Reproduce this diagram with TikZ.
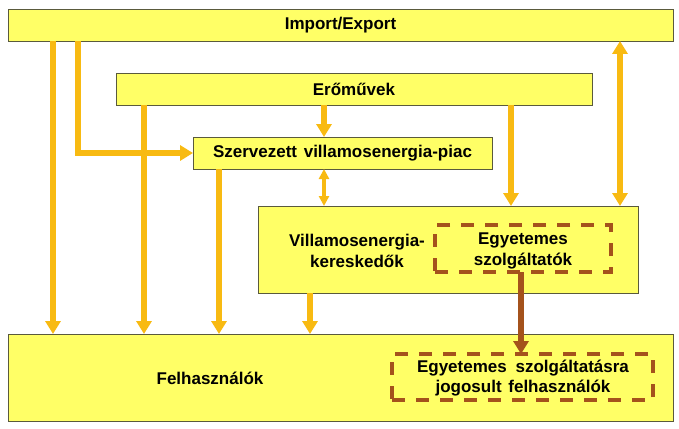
\documentclass[tikz,border=0pt]{standalone}
\usepackage{fontspec}
\setmainfont{Liberation Sans}
\usetikzlibrary{arrows.meta}
\definecolor{boxfill}{HTML}{FFFF66}
\definecolor{boxline}{HTML}{5A5A3C}
\definecolor{arrcol}{HTML}{F8BA12}
\definecolor{browncol}{HTML}{A4521C}
\tikzset{
  box/.style={draw=boxline, line width=0.9pt, fill=boxfill, inner sep=0pt, outer sep=0pt, anchor=center},
  dbox/.style={draw=browncol, line width=3.2pt, dash pattern=on 13pt off 11pt, inner sep=0pt, outer sep=0pt},
  txt/.style={font=\bfseries\fontsize{17}{20.5}\selectfont, align=center, inner sep=0pt},
  arr/.style={draw=arrcol, line width=5.5pt, -{Triangle[width=15pt,length=13pt]}},
  darr/.style={draw=arrcol, line width=5.5pt, {Triangle[width=15pt,length=13pt]}-{Triangle[width=15pt,length=13pt]}},
  sdarr/.style={draw=arrcol, line width=4pt, {Triangle[width=10pt,length=10pt]}-{Triangle[width=10pt,length=10pt]}},
  barr/.style={draw=browncol, line width=5.5pt, -{Triangle[width=15pt,length=13pt]}},
}
\begin{document}
\begin{tikzpicture}[x=1pt,y=-1pt]
\useasboundingbox (0,0) rectangle (679,428);
% boxes
\node[box, minimum width=665pt, minimum height=32pt] (imp) at (340.5,25) {};
\node[txt] (impt) at (340.5,25) {Import/Export};
\node[box, minimum width=476pt, minimum height=32pt] (ero) at (354,89) {};
\node[txt] (erot) at (354,89) {Erőművek};
\node[box, minimum width=299pt, minimum height=32pt] (szv) at (342.5,153) {};
\node[txt] (szvt) at (342.5,153) {Szervezett\hspace{2pt} villamosenergia-piac};
\node[box, minimum width=380pt, minimum height=87pt] (vk) at (448,249.5) {};
\node[txt] (vkt) at (357,251) {Villamosenergia-\\kereskedők};
\node[dbox, minimum width=176pt, minimum height=47pt] (esz) at (523,248.5) {};
\node[txt] (eszt) at (523,251) {Egyetemes\\szolgáltatók};
\node[box, minimum width=665pt, minimum height=87pt] (fel) at (340.5,377.5) {};
\node[txt] (felt) at (210,378) {Felhasználók};
\node[dbox, minimum width=261pt, minimum height=46pt] (ejf) at (522.5,377) {};
\node[txt] (ejft) at (523,378) {Egyetemes\hspace{4pt} szolgáltatásra\\jogosult\hspace{2pt} felhasználók};
% arrows
\draw[arr] (imp.south -| 53,0) -- (fel.north -| 53,0);
\draw[arr] (imp.south -| 78,0) |- (szv.west);
\draw[arr] (ero.south -| 144,0) -- (fel.north -| 144,0);
\draw[arr] (szv.south -| 219,0) -- (fel.north -| 219,0);
\draw[arr] (ero.south -| 324,0) -- (szv.north -| 324,0);
\draw[sdarr] (szv.south -| 324,0) -- (vk.north -| 324,0);
\draw[arr] (ero.south -| 511,0) -- (vk.north -| 511,0);
\draw[darr] (imp.south -| 620,0) -- (vk.north -| 620,0);
\draw[arr] (vk.south -| 310,0) -- (fel.north -| 310,0);
\draw[barr] (esz.south -| 521,0) -- (ejf.north -| 521,0);
\end{tikzpicture}
\end{document}
